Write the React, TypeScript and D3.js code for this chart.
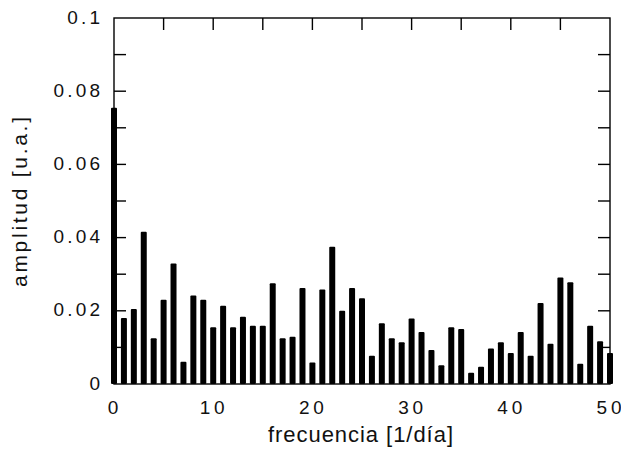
import React from "react";
import * as d3 from "d3";

const frequencies: number[] = d3.range(0, 51);
const amplitudes: number[] = [
  0.0755, 0.018, 0.0205, 0.0416, 0.0125, 0.023, 0.0329, 0.0061, 0.0242, 0.023,
  0.0155, 0.0214, 0.0155, 0.0184, 0.0159, 0.0159, 0.0275, 0.0125, 0.0129, 0.0262,
  0.0059, 0.0258, 0.0375, 0.02, 0.0262, 0.0234, 0.0077, 0.0166, 0.0125, 0.0114,
  0.0179, 0.0142, 0.0093, 0.0051, 0.0155, 0.015, 0.0031, 0.0047, 0.0097, 0.0114,
  0.0085, 0.0142, 0.0077, 0.0221, 0.011, 0.0291, 0.0278, 0.0055, 0.0159, 0.0117,
  0.0085,
];
const xTickLabels: number[] = [0, 10, 20, 30, 40, 50];
const yTickLabels: number[] = [0, 0.02, 0.04, 0.06, 0.08, 0.1];
const xMinorTicks: number[] = [5, 10, 15, 20, 25, 30, 35, 40, 45];
const yMinorTicks: number[] = [0.01, 0.02, 0.03, 0.04, 0.05, 0.06, 0.07, 0.08, 0.09];
const xTitle = "frecuencia [1/día]";
const yTitle = "amplitud [u.a.]";

const W = 621;
const H = 451;
const L = 114;
const R = 610;
const T = 18;
const B = 384;
const FONT = "'Liberation Sans', Arial, sans-serif";

export default function App() {
  const x = d3.scaleLinear().domain([0, 50]).range([L, R]);
  const y = d3.scaleLinear().domain([0, 0.1]).range([B, T]);
  const tick = 12;
  const barW = 6;
  const fmtY = (v: number) => (v === 0 ? "0" : String(+v.toFixed(2)));
  const ySp = 3.2;
  const xSp = 3.8;

  return (
    <div style={{ position: "fixed", left: 0, top: 0 }}>
      <svg width={W} height={H} style={{ display: "block", background: "#fff" }}>
        {/* bars */}
        {frequencies.map((f, i) => (
          <rect
            key={f}
            x={x(f) - barW / 2}
            y={y(amplitudes[i])}
            width={barW}
            height={y(0) - y(amplitudes[i])}
            rx={1}
            fill="#000"
          />
        ))}
        {/* frame */}
        <rect x={L} y={T} width={R - L} height={B - T} fill="none" stroke="#000" strokeWidth={1.4} />
        {/* ticks */}
        {xMinorTicks.map((v) => (
          <g key={"xt" + v}>
            <line x1={x(v)} x2={x(v)} y1={T} y2={T + tick} stroke="#000" strokeWidth={1.4} />
            <line x1={x(v)} x2={x(v)} y1={B} y2={B - tick} stroke="#000" strokeWidth={1.4} />
          </g>
        ))}
        {yMinorTicks.map((v) => (
          <g key={"yt" + v}>
            <line x1={L} x2={L + tick} y1={y(v)} y2={y(v)} stroke="#000" strokeWidth={1.4} />
            <line x1={R} x2={R - tick} y1={y(v)} y2={y(v)} stroke="#000" strokeWidth={1.4} />
          </g>
        ))}
        {/* tick labels */}
        {yTickLabels.map((v) => (
          <text
            key={"yl" + v}
            x={100 + ySp}
            y={y(v) + 5.5}
            textAnchor="end"
            fontFamily={FONT}
            fontSize={19}
            letterSpacing={ySp}
            fill="#111"
          >
            {fmtY(v)}
          </text>
        ))}
        {xTickLabels.map((v) => (
          <text
            key={"xl" + v}
            x={x(v) - 1 + xSp / 2}
            y={414}
            textAnchor="middle"
            fontFamily={FONT}
            fontSize={19}
            letterSpacing={xSp}
            fill="#111"
          >
            {v}
          </text>
        ))}
        {/* axis titles */}
        <text
          x={360.5}
          y={442}
          textAnchor="middle"
          fontFamily={FONT}
          fontSize={22}
          textLength={185}
          lengthAdjust="spacing"
          fill="#111"
        >
          {xTitle}
        </text>
        <text
          transform={`translate(27,202) rotate(-90)`}
          textAnchor="middle"
          fontFamily={FONT}
          fontSize={21}
          textLength={170}
          lengthAdjust="spacing"
          fill="#111"
        >
          {yTitle}
        </text>
      </svg>
    </div>
  );
}
